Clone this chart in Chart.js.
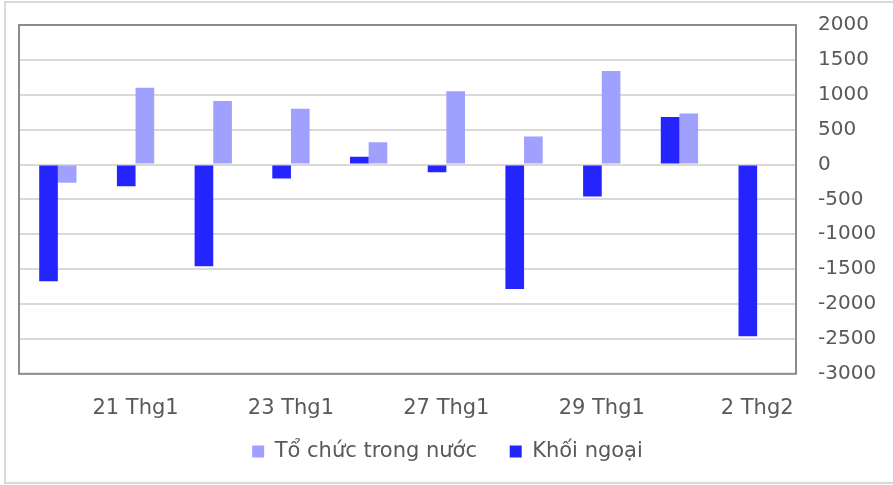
<!DOCTYPE html>
<html>
<head>
<meta charset="utf-8">
<script src="https://cdn.jsdelivr.net/npm/chart.js@4.4.1/dist/chart.umd.min.js"></script>
<style>
    html, body { margin: 0; padding: 0; background: #fff; }
    #wrap { width: 893px; height: 485px; position: relative; }
</style>
</head>
<body>
<div id="wrap"><canvas id="chart"></canvas></div>
<script>
const labels = ['20 Thg1', '21 Thg1', '22 Thg1', '23 Thg1', '26 Thg1', '27 Thg1', '28 Thg1', '29 Thg1', '30 Thg1', '2 Thg2'];
const toChucTrongNuoc = [-260, 1100, 910, 800, 320, 1050, 400, 1340, 730, 15];
const khoiNgoai = [-1675, -310, -1460, -200, 110, -110, -1785, -460, 680, -2460];
const yTicks = { min: -3000, max: 2000, step: 500 };

const textColor = '#595959';
const fontFamily = "'DejaVu Sans', sans-serif";

// frame around the plot area and the light outer border
const framePlugin = {
    id: 'frame',
    beforeDraw: function(chart) {
        const ctx = chart.ctx;
        ctx.save();
        ctx.strokeStyle = '#d9d9d9';
        ctx.lineWidth = 2;
        ctx.strokeRect(5, 2, 900, 481);
        ctx.restore();
    },
    afterDatasetsDraw: function(chart) {
        const a = chart.chartArea;
        const ctx = chart.ctx;
        ctx.save();
        ctx.strokeStyle = '#8c8c8c';
        ctx.lineWidth = 2;
        ctx.strokeRect(a.left, a.top, a.right - a.left, a.bottom - a.top);
        ctx.restore();
    }
};

const ctx = document.getElementById('chart').getContext('2d');
new Chart(ctx, {
    type: 'bar',
    data: {
        labels: labels,
        datasets: [
            {
                label: 'Khối ngoại',
                data: khoiNgoai,
                backgroundColor: '#2424ff',
                categoryPercentage: 0.48,
                barPercentage: 1.0
            },
            {
                label: 'Tổ chức trong nước',
                data: toChucTrongNuoc,
                backgroundColor: '#a0a0ff',
                categoryPercentage: 0.48,
                barPercentage: 1.0
            }
        ]
    },
    options: {
        responsive: true,
        maintainAspectRatio: false,
        animation: false,
        layout: { padding: { left: 19, top: 25, right: 17, bottom: 13 } },
        plugins: {
            legend: {
                position: 'bottom',
                reverse: true,
                labels: {
                    boxWidth: 12,
                    boxHeight: 12,
                    padding: 6,
                    color: textColor,
                    font: { family: fontFamily, size: 21 },
                    generateLabels: function(chart) {
                        const items = Chart.defaults.plugins.legend.labels.generateLabels(chart);
                        // extra room after the first legend entry
                        items.forEach(it => { if (it.datasetIndex === 1) it.text += '    '; });
                        return items;
                    }
                }
            },
            tooltip: { enabled: false }
        },
        scales: {
            x: {
                grid: { display: false },
                border: { display: false },
                ticks: {
                    autoSkip: false,
                    maxRotation: 0,
                    padding: 14,
                    color: textColor,
                    font: { family: fontFamily, size: 21 },
                    callback: function(value, i) {
                        return i % 2 === 1 ? labels[i] : '';
                    }
                }
            },
            y: {
                position: 'right',
                min: yTicks.min,
                max: yTicks.max,
                grid: { color: '#d9d9d9', lineWidth: 2, drawTicks: false },
                border: { display: false },
                afterFit: function(scale) {
                    scale.width = 80;
                    scale.paddingTop = 0;
                    scale.paddingBottom = 0;
                },
                ticks: {
                    stepSize: yTicks.step,
                    padding: 22,
                    color: textColor,
                    font: { family: fontFamily, size: 20 },
                    callback: function(value) { return String(value); }
                }
            }
        }
    },
    plugins: [framePlugin]
});
</script>
</body>
</html>
